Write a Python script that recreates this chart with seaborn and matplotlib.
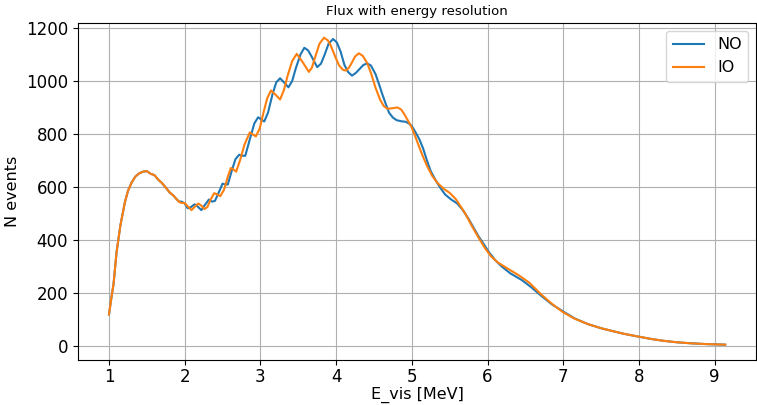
import matplotlib
matplotlib.use("Agg")
import matplotlib.pyplot as plt
import seaborn as sns
import pandas as pd

# Shared low-energy part (both orderings coincide)
e_low = [1.00, 1.03, 1.06, 1.10, 1.15, 1.21, 1.25, 1.30, 1.35, 1.40, 1.45, 1.50,
         1.55, 1.60, 1.65, 1.70, 1.75, 1.80, 1.85, 1.90]
n_low = [120, 180, 235, 355, 455, 543, 585, 618, 640, 652, 658, 660,
         650, 645, 628, 615, 598, 580, 568, 552]

# Normal ordering
e_no = [1.93, 1.96, 2.00, 2.04, 2.08, 2.13, 2.17, 2.22, 2.26, 2.32, 2.36, 2.40,
        2.45, 2.50, 2.54, 2.57, 2.62, 2.67, 2.72, 2.76, 2.80, 2.86, 2.92, 2.97,
        3.01, 3.05, 3.10, 3.16, 3.21, 3.26, 3.31, 3.37, 3.42, 3.47, 3.53, 3.58,
        3.63, 3.68, 3.75, 3.80, 3.85, 3.90, 3.96, 4.01, 4.06, 4.11, 4.16, 4.21,
        4.26, 4.31, 4.36, 4.41, 4.46, 4.52, 4.57, 4.61, 4.66, 4.70, 4.75, 4.80,
        4.86, 4.92, 4.97, 5.00, 5.05, 5.10, 5.15, 5.20, 5.25, 5.31, 5.37, 5.44,
        5.52, 5.60, 5.67, 5.75, 5.82, 5.88, 5.95, 6.01, 6.10, 6.19, 6.30, 6.45,
        6.58, 6.71, 6.85, 7.00, 7.15, 7.33, 7.50, 7.64, 7.80, 8.00, 8.17, 8.34,
        8.50, 8.69, 8.90, 9.14]
n_no = [545, 545, 538, 520, 524, 535, 527, 513, 530, 553, 545, 548,
        580, 613, 609, 610, 660, 705, 722, 718, 718, 780, 840, 863,
        855, 847, 880, 950, 995, 1010, 995, 976, 1000, 1050, 1100, 1125,
        1115, 1090, 1052, 1065, 1100, 1140, 1158, 1145, 1110, 1060, 1033, 1020,
        1030, 1045, 1060, 1066, 1058, 1026, 985, 950, 910, 880, 862, 852,
        848, 846, 838, 830, 806, 780, 745, 700, 660, 628, 600, 572,
        553, 538, 515, 480, 445, 415, 385, 358, 325, 300, 275, 250,
        222, 190, 158, 131, 105, 83, 68, 58, 47, 36, 27, 20,
        15, 11, 8, 6]

# Inverted ordering
e_io = [1.93, 1.96, 2.00, 2.04, 2.09, 2.13, 2.18, 2.22, 2.26, 2.30, 2.34, 2.39,
        2.43, 2.47, 2.52, 2.57, 2.61, 2.65, 2.68, 2.73, 2.79, 2.86, 2.90, 2.94,
        2.99, 3.04, 3.09, 3.14, 3.20, 3.26, 3.31, 3.36, 3.42, 3.48, 3.56, 3.64,
        3.68, 3.73, 3.78, 3.84, 3.89, 3.93, 3.99, 4.04, 4.09, 4.13, 4.17, 4.21,
        4.25, 4.30, 4.35, 4.41, 4.46, 4.52, 4.58, 4.63, 4.68, 4.74, 4.81, 4.86,
        4.90, 4.95, 4.99, 5.04, 5.09, 5.14, 5.20, 5.27, 5.34, 5.42, 5.50, 5.58,
        5.65, 5.71, 5.79, 5.88, 5.97, 6.05, 6.14, 6.27, 6.41, 6.55, 6.71, 6.85,
        7.00, 7.15, 7.33, 7.50, 7.64, 7.80, 8.00, 8.17, 8.34, 8.50, 8.69, 8.90,
        9.14]
n_io = [543, 540, 540, 527, 513, 525, 538, 530, 517, 525, 552, 577,
        572, 566, 590, 640, 672, 665, 658, 700, 760, 806, 798, 791,
        820, 880, 935, 964, 948, 930, 965, 1020, 1075, 1102, 1070, 1034,
        1050, 1096, 1140, 1163, 1153, 1133, 1090, 1058, 1042, 1039, 1050, 1070,
        1092, 1104, 1095, 1068, 1030, 975, 930, 905, 895, 897, 900, 892,
        875, 850, 830, 795, 757, 720, 680, 642, 615, 594, 578, 555,
        525, 498, 455, 410, 368, 338, 315, 292, 268, 240, 195, 160,
        128, 104, 83, 68, 58, 47, 36, 27, 20, 15, 11, 8,
        6]

df_no = pd.DataFrame({"E": e_low + e_no, "N": n_low + n_no})
df_io = pd.DataFrame({"E": e_low + e_io, "N": n_low + n_io})

fig = plt.figure(figsize=(7.57, 4.05), dpi=100)
ax = fig.add_axes([0.103, 0.111, 0.896, 0.832])

sns.lineplot(data=df_no, x="E", y="N", ax=ax, color="#1f77b4", label="NO",
             linewidth=1.5)
sns.lineplot(data=df_io, x="E", y="N", ax=ax, color="#ff7f0e", label="IO",
             linewidth=1.5)

ax.grid(True, color="#b0b0b0", linewidth=0.8)
ax.set_axisbelow(True)
ax.set_xticks([1, 2, 3, 4, 5, 6, 7, 8, 9])
ax.set_yticks([0, 200, 400, 600, 800, 1000, 1200])
ax.tick_params(labelsize=12)
ax.tick_params(axis="x", pad=2.5)
ax.set_xlabel("E_vis [MeV]", fontsize=11.5, labelpad=0)
ax.set_ylabel("N events", fontsize=11.5)
ax.set_title("Flux with energy resolution", fontsize=9.5)
ax.set_xlim(0.59, 9.55)
ax.set_ylim(-52, 1218)
ax.legend(loc="upper right", fontsize=11.5)

fig.savefig("out.png", dpi=100)
